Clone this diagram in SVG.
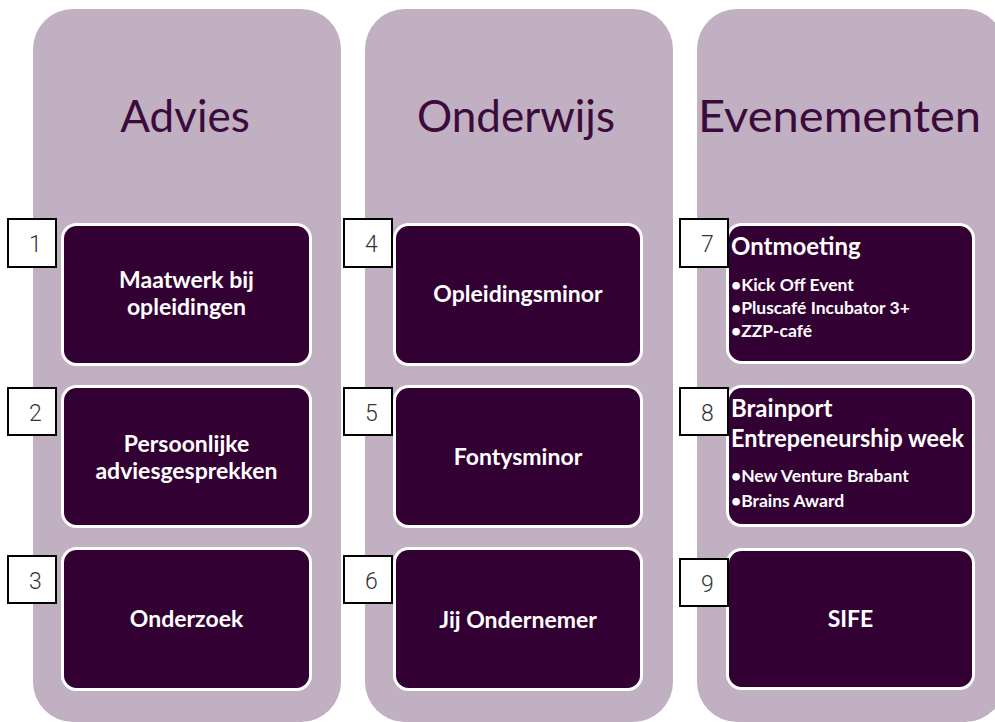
<svg xmlns="http://www.w3.org/2000/svg" width="995" height="722" viewBox="0 0 995 722">
  <style>
    .col { fill: #C0B0C1; }
    .title { font-family: Lato, "Open Sans", "Liberation Sans", sans-serif; font-size: 44px; fill: #3B0B3B; text-anchor: middle; }
    .node { fill: #330033; stroke: #FFFFFF; stroke-width: 3; }
    .lbl { font-family: Lato, "Open Sans", "Liberation Sans", sans-serif; font-weight: bold; font-size: 23px; fill: #FFFFFF; text-anchor: middle; }
    .head { font-family: Lato, "Open Sans", "Liberation Sans", sans-serif; font-weight: bold; font-size: 24px; fill: #FFFFFF; }
    .bul { font-family: Lato, "Open Sans", "Liberation Sans", sans-serif; font-weight: bold; font-size: 17.5px; fill: #FFFFFF; }
    .nbox { fill: #FFFFFF; stroke: #000000; stroke-width: 2; }
    .num { font-family: Roboto, "DejaVu Sans", sans-serif; font-weight: 300; font-size: 23px; fill: #333333; text-anchor: middle; }
  </style>
  <rect width="995" height="722" fill="#FFFFFF"/>
  <g id="columns">
    <g id="col-advies">
      <rect class="col" x="33" y="9" width="308" height="713" rx="40"/>
      <text class="title" x="185" y="132">Advies</text>
    </g>
    <g id="col-onderwijs">
      <rect class="col" x="365" y="9" width="308" height="713" rx="40"/>
      <text class="title" x="516" y="132">Onderwijs</text>
    </g>
    <g id="col-evenementen">
      <rect class="col" x="697" y="9" width="308" height="713" rx="40"/>
      <text class="title" x="839.5" y="132" textLength="283" lengthAdjust="spacingAndGlyphs">Evenementen</text>
    </g>
  </g>
  <g id="connectors"/>
  <g id="node1">
    <rect class="node" x="62.5" y="224.5" width="248" height="140" rx="14"/>
    <text class="lbl" x="186.5" y="288">Maatwerk bij</text>
    <text class="lbl" x="186.5" y="315">opleidingen</text>
    <rect class="nbox" x="8" y="219" width="48" height="48"/>
    <text class="num" x="35.5" y="252">1</text>
  </g>
  <g id="node2">
    <rect class="node" x="62.5" y="386.5" width="248" height="140" rx="14"/>
    <text class="lbl" x="186.5" y="452">Persoonlijke</text>
    <text class="lbl" x="186.5" y="479">adviesgesprekken</text>
    <rect class="nbox" x="8" y="388" width="48" height="47"/>
    <text class="num" x="35.5" y="421">2</text>
  </g>
  <g id="node3">
    <rect class="node" x="62.5" y="548.5" width="248" height="141" rx="14"/>
    <text class="lbl" x="186.5" y="627">Onderzoek</text>
    <rect class="nbox" x="8" y="556" width="48" height="47"/>
    <text class="num" x="35.5" y="589">3</text>
  </g>
  <g id="node4">
    <rect class="node" x="394.5" y="224.5" width="247" height="140" rx="14"/>
    <text class="lbl" x="518" y="302">Opleidingsminor</text>
    <rect class="nbox" x="344" y="219" width="48" height="48"/>
    <text class="num" x="371.5" y="252">4</text>
  </g>
  <g id="node5">
    <rect class="node" x="394.5" y="386.5" width="247" height="140" rx="14"/>
    <text class="lbl" x="518" y="465">Fontysminor</text>
    <rect class="nbox" x="344" y="388" width="48" height="47"/>
    <text class="num" x="371.5" y="421">5</text>
  </g>
  <g id="node6">
    <rect class="node" x="394.5" y="548.5" width="247" height="141" rx="14"/>
    <text class="lbl" x="518" y="628">Jij Ondernemer</text>
    <rect class="nbox" x="344" y="556" width="48" height="47"/>
    <text class="num" x="371.5" y="589">6</text>
  </g>
  <g id="node7">
    <rect class="node" x="727.5" y="224.5" width="246" height="138" rx="14"/>
    <text class="head" x="731" y="255">Ontmoeting</text>
    <text class="bul" x="731" y="291">•Kick Off Event</text>
    <text class="bul" x="731" y="314">•Pluscafé Incubator 3+</text>
    <text class="bul" x="731" y="337">•ZZP-café</text>
    <rect class="nbox" x="680" y="219" width="48" height="48"/>
    <text class="num" x="707.5" y="252">7</text>
  </g>
  <g id="node8">
    <rect class="node" x="727.5" y="386.5" width="246" height="139" rx="14"/>
    <text class="head" x="731" y="417">Brainport</text>
    <text class="head" x="731" y="447" textLength="233" lengthAdjust="spacingAndGlyphs">Entrepeneurship week</text>
    <text class="bul" x="731" y="482">•New Venture Brabant</text>
    <text class="bul" x="731" y="507">•Brains Award</text>
    <rect class="nbox" x="680" y="388" width="48" height="47"/>
    <text class="num" x="707.5" y="421">8</text>
  </g>
  <g id="node9">
    <rect class="node" x="727.5" y="549.5" width="246" height="139" rx="14"/>
    <text class="lbl" x="850.5" y="627">SIFE</text>
    <rect class="nbox" x="680" y="559" width="48" height="47"/>
    <text class="num" x="707.5" y="592">9</text>
  </g>
</svg>
